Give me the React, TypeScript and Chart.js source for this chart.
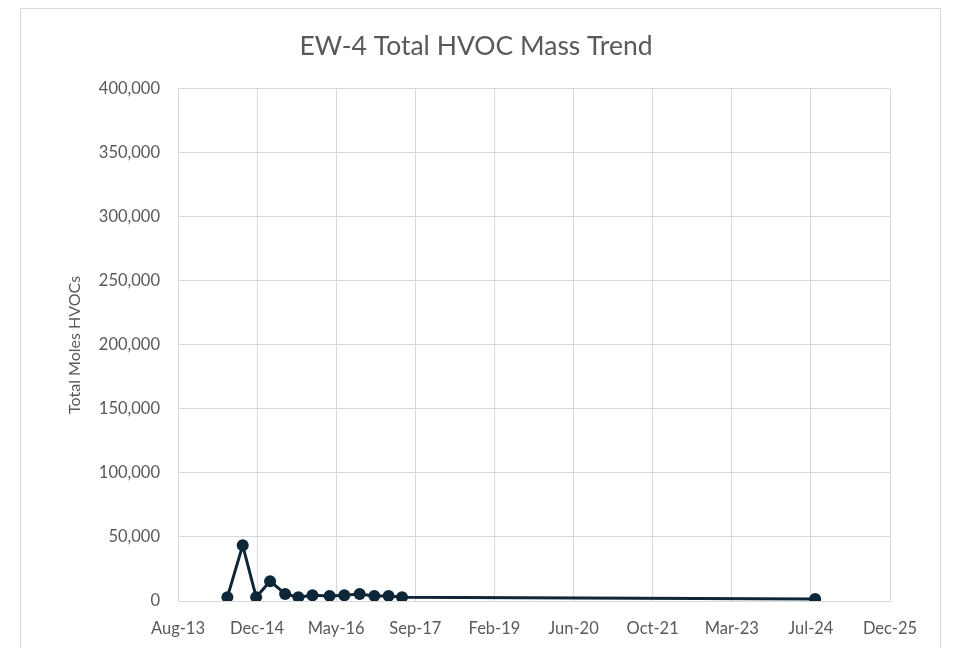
import React, { useEffect, useRef } from "react";
import { Chart, registerables } from "chart.js";

Chart.register(...registerables);

const sampleDates = [
  "2014-06-22", "2014-09-27", "2014-12-21", "2015-03-19", "2015-06-22",
  "2015-09-14", "2015-12-12", "2016-03-29", "2016-06-30", "2016-10-05",
  "2017-01-06", "2017-04-06", "2017-06-30", "2024-08-23",
];
const totalMoles = [
  3000, 43500, 3000, 15500, 5500, 3000, 4500, 4000, 4500, 5500, 4000, 4000, 3000, 1500,
];
const xMin = 41500;
const xMax = 46000;
const xStep = 500;
const yMax = 400000;
const yStep = 50000;
const monthNames = ["Jan", "Feb", "Mar", "Apr", "May", "Jun", "Jul", "Aug", "Sep", "Oct", "Nov", "Dec"];

const EXCEL_EPOCH = Date.UTC(1899, 11, 30);
const toSerial = (iso: string) => Math.round((Date.parse(iso + "T00:00:00Z") - EXCEL_EPOCH) / 86400000);
const fmtSerial = (v: number) => {
  const d = new Date(EXCEL_EPOCH + v * 86400000);
  return monthNames[d.getUTCMonth()] + "-" + String(d.getUTCFullYear() % 100).padStart(2, "0");
};

export default function App() {
  const ref = useRef<HTMLCanvasElement | null>(null);
  useEffect(() => {
    if (!ref.current) return;
    const font = "Lato, 'DejaVu Sans', sans-serif";
    const chart = new Chart(ref.current, {
      type: "line",
      data: {
        datasets: [
          {
            data: sampleDates.map((d, i) => ({ x: toSerial(d), y: totalMoles[i] })),
            borderColor: "#0d2638",
            backgroundColor: "#0d2638",
            borderWidth: 3,
            pointRadius: 6,
            pointBorderWidth: 0,
            tension: 0,
          },
        ],
      },
      options: {
        animation: false,
        responsive: false,
        maintainAspectRatio: false,
        layout: { padding: { top: 6, left: 62, right: 67, bottom: 0 } },
        plugins: {
          legend: { display: false },
          tooltip: { enabled: false },
          title: {
            display: true,
            text: "EW-4 Total HVOC Mass Trend",
            color: "#595959",
            font: { family: font, size: 26.5, weight: "normal" },
            padding: { top: 25, bottom: 26 },
          },
        },
        scales: {
          x: {
            type: "linear",
            min: xMin,
            max: xMax,
            afterFit: (s: any) => { s.height = 47; },
            ticks: {
              stepSize: xStep,
              color: "#595959",
              font: { family: font, size: 16.5 },
              padding: 18,
              maxRotation: 0,
              autoSkip: false,
              callback: (v: any) => fmtSerial(Number(v)),
            },
            grid: { color: "#d9d9d9", drawTicks: false, lineWidth: 1 },
            border: { color: "#d9d9d9" },
          },
          y: {
            min: 0,
            max: yMax,
            afterFit: (s: any) => { s.width = 116; },
            title: {
              display: true,
              text: "Total Moles HVOCs",
              color: "#595959",
              font: { family: font, size: 16 },
              padding: { top: 3, bottom: 0 },
            },
            ticks: {
              stepSize: yStep,
              color: "#595959",
              font: { family: font, size: 16.5 },
              padding: 18,
              callback: (v: any) => Number(v).toLocaleString("en-US"),
            },
            grid: { color: "#d9d9d9", drawTicks: false, lineWidth: 1 },
            border: { color: "#d9d9d9" },
          },
        },
      },
    });
    return () => chart.destroy();
  }, []);
  return (
    <div style={{ position: "fixed", left: 0, top: 0, width: 957, height: 648, overflow: "hidden", background: "#fff" }}>
      <div style={{ position: "absolute", left: 20, top: 8, width: 921, height: 700, border: "1px solid #d9d9d9", boxSizing: "border-box" }} />
      <canvas ref={ref} width={957} height={648} style={{ position: "absolute", left: 0, top: 0 }} />
    </div>
  );
}
